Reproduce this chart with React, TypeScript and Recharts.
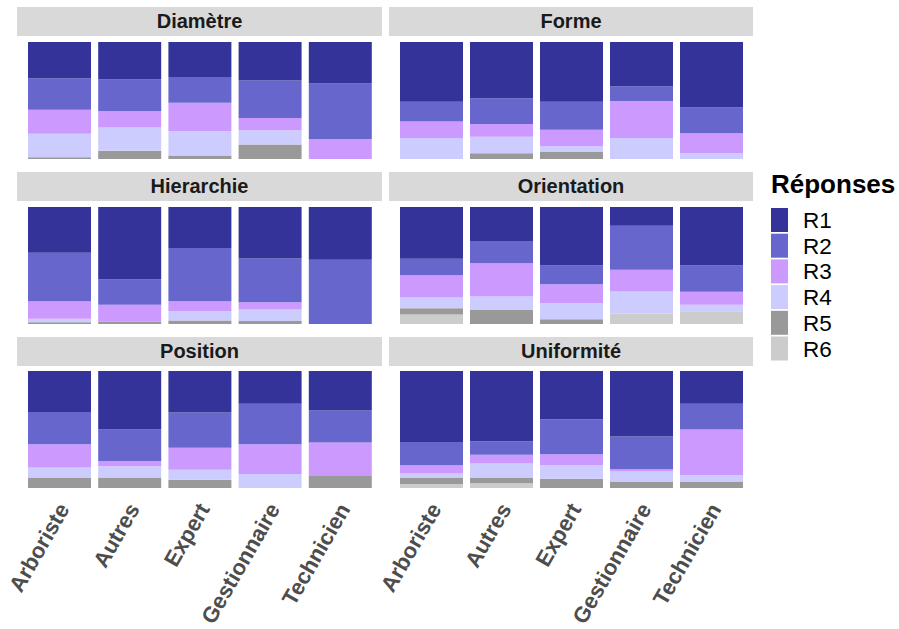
import React from 'react';
import { BarChart, Bar, XAxis, YAxis } from 'recharts';

const categories = ['Arboriste', 'Autres', 'Expert', 'Gestionnaire', 'Technicien'];
const responses = ['R1', 'R2', 'R3', 'R4', 'R5', 'R6'];
const colors = ['#333399', '#6666CC', '#CC99FF', '#CCCCFF', '#999999', '#CCCCCC'];
const facetTitles = ['Diamètre', 'Forme', 'Hierarchie', 'Orientation', 'Position', 'Uniformité'];

// rows follow categories; columns are R1..R6 (percent)
const diametre = [
  [31, 27, 20.5, 20, 1.5, 0],
  [32, 27, 14, 20, 7, 0],
  [30, 22, 24, 21, 3, 0],
  [33, 32, 10.5, 12, 12.5, 0],
  [35.5, 47.5, 17, 0, 0, 0],
];
const forme = [
  [51, 17, 14, 18, 0, 0],
  [48, 22, 11, 14, 5, 0],
  [51, 24, 14, 5, 6, 0],
  [38, 12.5, 31.5, 18, 0, 0],
  [56, 22, 17, 5, 0, 0],
];
const hierarchie = [
  [39, 41.5, 15, 3, 1.5, 0],
  [62, 21.5, 14.5, 0, 2, 0],
  [35, 45.5, 8.5, 8, 3, 0],
  [44, 37.5, 6, 10, 2.5, 0],
  [45, 55, 0, 0, 0, 0],
];
const orientation = [
  [44, 14, 19, 9, 5.5, 8],
  [29, 19, 28.5, 11.5, 12, 0],
  [50, 16, 16, 14, 4, 0],
  [16, 38, 18.5, 19, 0, 9],
  [50, 22.5, 11, 5.5, 0, 11],
];
const position = [
  [35, 27.5, 20, 8.5, 9, 0],
  [50, 27, 4.5, 9.5, 9, 0],
  [35.5, 30, 19, 8.5, 7, 0],
  [28, 34.5, 25.5, 12, 0, 0],
  [34, 27.5, 28, 0, 11, 0],
];
const uniformite = [
  [61, 20, 7, 3.5, 5.5, 3.5],
  [60, 11.5, 7.5, 12, 5, 4],
  [41.5, 30, 9.5, 11.5, 8, 0],
  [56, 28, 2, 8.5, 5.5, 0],
  [28, 22, 39, 5.5, 5.5, 0],
];

const facetValues = [diametre, forme, hierarchie, orientation, position, uniformite];

const FONT = '"Liberation Sans", Arial, Helvetica, sans-serif';

const toRows = (vals: number[][]) =>
  categories.map((c, i) => {
    const row: Record<string, any> = { cat: c };
    responses.forEach((r, j) => {
      row[r] = vals[i][j];
    });
    return row;
  });

const AngledTick = (props: any) => {
  const { x, y, payload } = props;
  return (
    <g transform={`translate(${x + 11},${y + 21})`}>
      <text
        textAnchor="end"
        transform="rotate(-60)"
        fill="#4D4D4D"
        fontSize={22}
        fontWeight="bold"
        fontFamily={FONT}
      >
        {payload.value}
      </text>
    </g>
  );
};

const colX = [17, 389];
const colW = [365, 364];
const stripY = [7, 172, 337];
const barTop = [42, 207, 371];
const barH = 117;

const Facet = ({ idx }: { idx: number }) => {
  const col = idx % 2;
  const row = Math.floor(idx / 2);
  const isBottom = row === 2;
  const data = toRows(facetValues[idx]);
  const axisH = isBottom ? 629 - (barTop[row] + barH) : 0;
  return (
    <>
      <div
        style={{
          position: 'absolute',
          left: colX[col],
          top: stripY[row],
          width: colW[col],
          height: 29,
          background: '#D9D9D9',
          display: 'flex',
          alignItems: 'center',
          justifyContent: 'center',
          fontFamily: FONT,
          fontWeight: 'bold',
          fontSize: 20,
          color: '#1A1A1A',
        }}
      >
        {facetTitles[idx]}
      </div>
      <div style={{ position: 'absolute', left: colX[col], top: barTop[row] }}>
        <BarChart
          width={colW[col]}
          height={barH + axisH}
          data={data}
          stackOffset="expand"
          margin={{ top: 0, right: 7, bottom: 0, left: 7 }}
        >
          <XAxis
            dataKey="cat"
            hide={!isBottom}
            height={axisH}
            axisLine={false}
            tickLine={false}
            tickSize={0}
            tickMargin={0}
            interval={0}
            tick={<AngledTick />}
          />
          <YAxis hide domain={[0, 1]} />
          {responses
            .map((r, j) => ({ r, j }))
            .reverse()
            .map(({ r, j }) => (
              <Bar
                key={r}
                dataKey={r}
                stackId="a"
                fill={colors[j]}
                barSize={63}
                isAnimationActive={false}
              />
            ))}
        </BarChart>
      </div>
    </>
  );
};

const Legend = () => (
  <svg
    style={{ position: 'absolute', left: 760, top: 160 }}
    width={139}
    height={220}
  >
    <text x={11} y={33} fontFamily={FONT} fontWeight="bold" fontSize={26} fill="#000">
      Réponses
    </text>
    {responses.map((r, j) => (
      <g key={r}>
        <rect x={11} y={48 + j * 25.7} width={17} height={24} fill={colors[j]} />
        <text x={43} y={48 + j * 25.7 + 20} fontFamily={FONT} fontSize={22.5} fill="#000">
          {r}
        </text>
      </g>
    ))}
  </svg>
);

export default function App() {
  return (
    <div
      style={{
        position: 'absolute',
        left: 0,
        top: 0,
        width: 899,
        height: 629,
        background: '#FFFFFF',
        overflow: 'hidden',
      }}
    >
      <style>{'.recharts-surface{overflow:visible}.recharts-wrapper{overflow:visible}'}</style>
      {facetTitles.map((_, i) => (
        <Facet key={i} idx={i} />
      ))}
      <Legend />
    </div>
  );
}
